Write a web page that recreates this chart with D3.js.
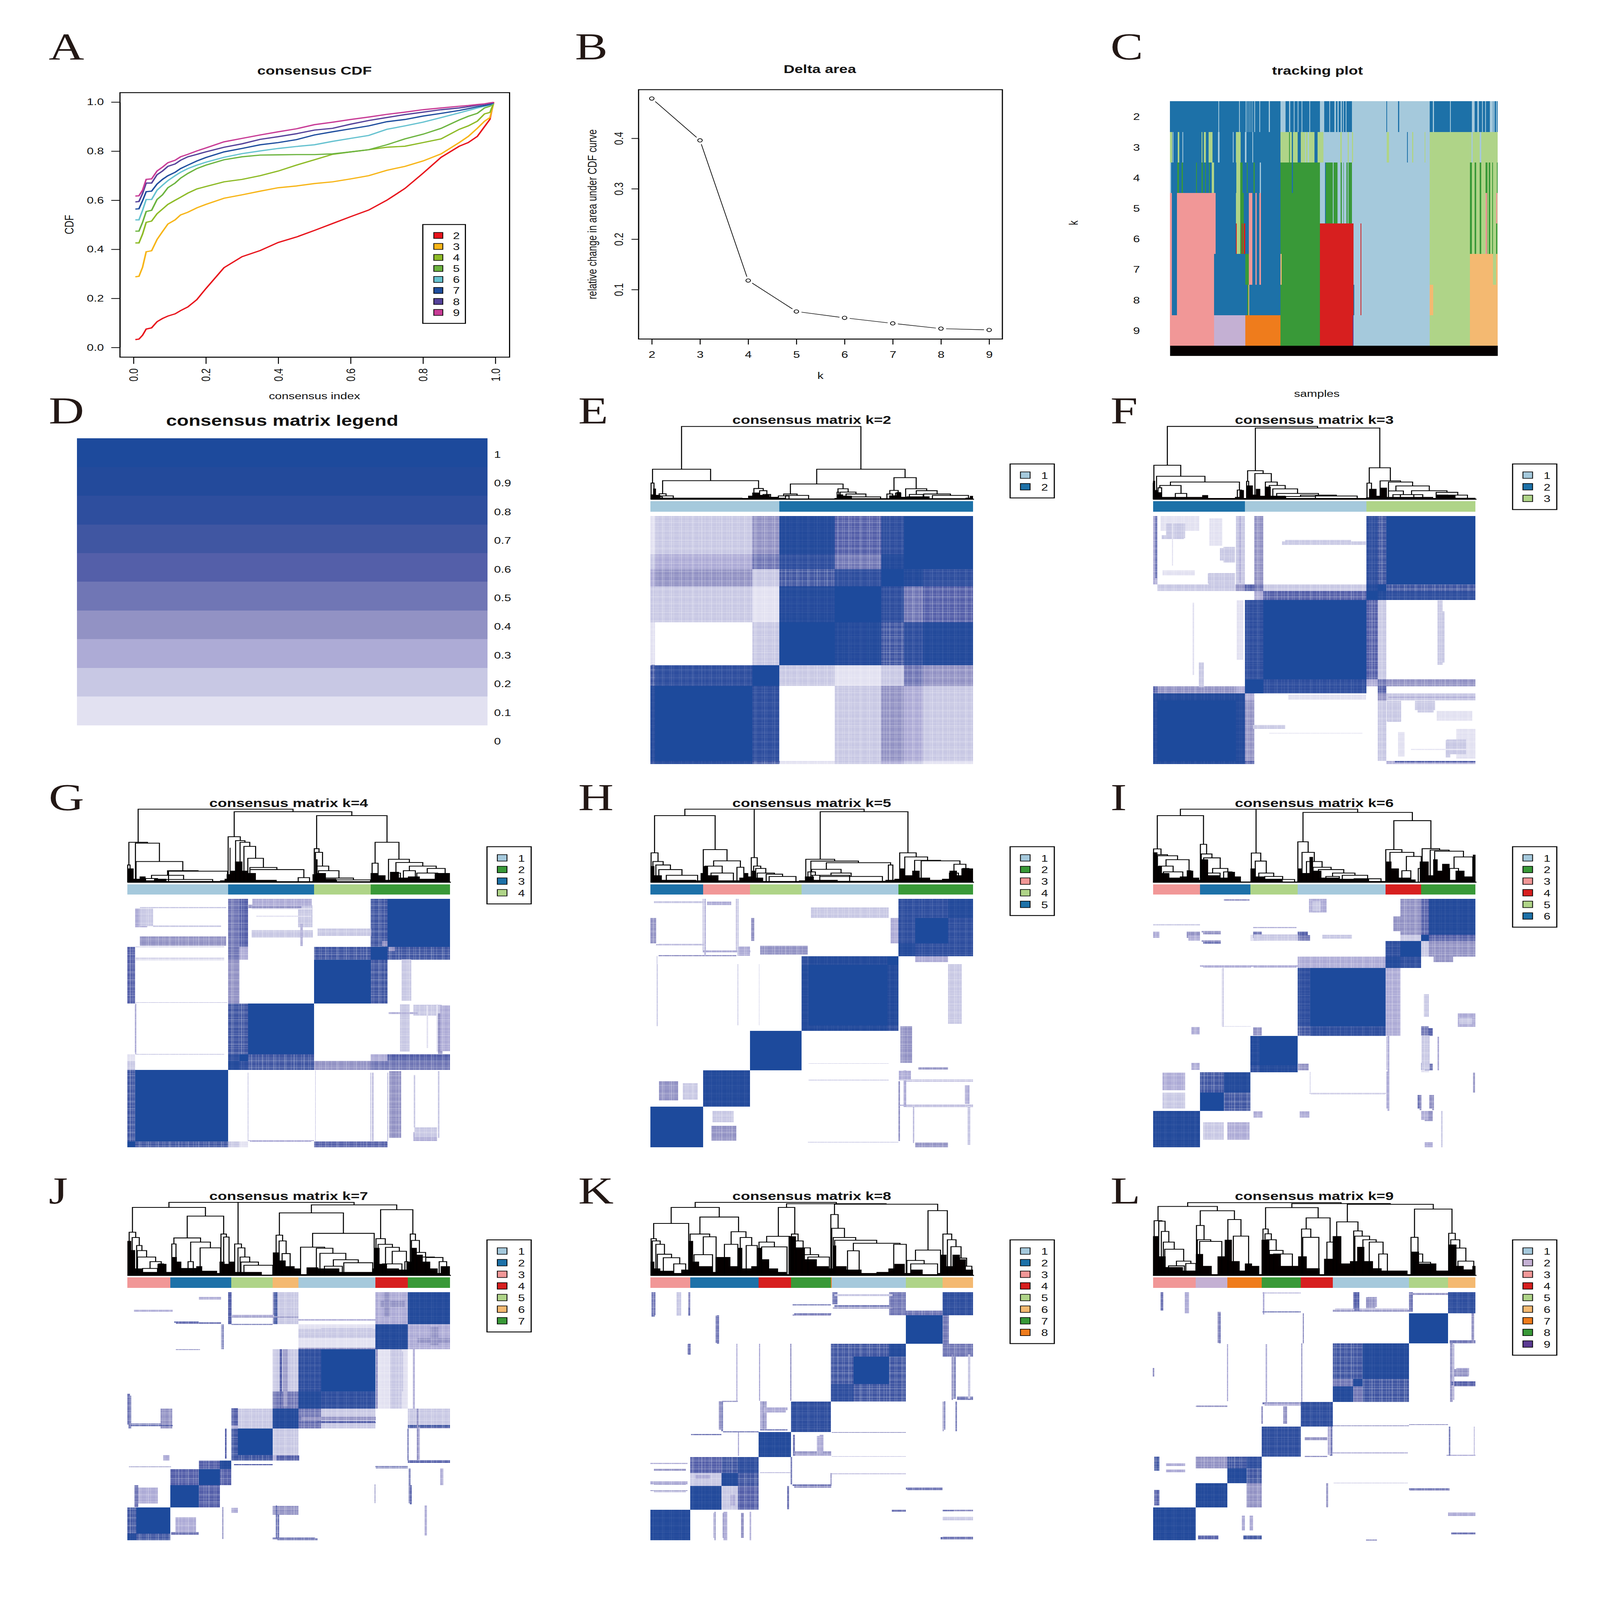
<!DOCTYPE html>
<html lang="en">
  <head>
    <meta charset="UTF-8" />
    <meta name="viewport" content="width=device-width, initial-scale=1.0" />
    <title>Consensus clustering</title>
    <script src="https://d3js.org/d3.v7.min.js"></script>
    <style>
      html, body { margin: 0; padding: 0; width: 100%; height: 100%; overflow: hidden; background: #fff; }
      svg { display: block; width: 100vw; height: 100vh; }
      text { font-family: "Liberation Sans", Arial, sans-serif; fill: #111; }
      .panel-label { font-family: "Liberation Serif", serif; font-size: 152px; fill: #231815; }
      .tick line, .domain { stroke: #000; stroke-width: 3; }
    </style>
  </head>
  <body>
    <div id="chart"></div>
    <script>
      // Panel A, consensus CDF read at these consensus index values
      const cdfIndex = [0.005,0.015,0.025,0.035,0.05,0.065,0.08,0.095,0.115,0.13,0.15,0.175,0.2,0.25,0.3,0.35,0.4,0.45,0.5,0.55,0.6,0.65,0.7,0.75,0.8,0.85,0.9,0.925,0.95,0.97,0.985,0.995];
      const cdfK2 = [.032,.034,.05,.075,.08,.105,.118,.128,.137,.15,.165,.195,.24,.325,.37,.395,.428,.45,.477,.505,.533,.56,.6,.648,.71,.775,.82,.835,.86,.9,.93,1];
      const cdfK3 = [.288,.29,.327,.39,.394,.44,.472,.503,.52,.54,.551,.569,.583,.608,.622,.637,.651,.658,.668,.675,.687,.7,.722,.738,.76,.789,.835,.86,.893,.922,.937,.995];
      const cdfK4 = [.426,.426,.462,.51,.515,.545,.564,.583,.6,.612,.629,.646,.656,.675,.685,.7,.719,.743,.765,.787,.797,.806,.816,.82,.835,.85,.889,.903,.922,.952,.958,.995];
      const cdfK5 = [.474,.474,.51,.554,.559,.603,.622,.651,.67,.69,.709,.729,.743,.765,.777,.784,.785,.786,.786,.789,.797,.806,.826,.85,.869,.893,.927,.942,.954,.976,.983,.995];
      const cdfK6 = [.52,.52,.559,.603,.603,.641,.661,.68,.7,.714,.729,.743,.755,.775,.79,.801,.811,.819,.826,.84,.852,.864,.889,.903,.918,.937,.956,.966,.976,.983,.988,.995];
      const cdfK7 = [.564,.565,.598,.635,.637,.666,.685,.7,.714,.729,.743,.76,.774,.797,.811,.826,.835,.847,.866,.879,.891,.903,.92,.929,.943,.954,.966,.973,.981,.986,.99,.997];
      const cdfK8 = [.593,.595,.627,.67,.67,.704,.719,.738,.748,.763,.777,.787,.797,.816,.83,.848,.859,.871,.886,.893,.91,.925,.937,.949,.959,.969,.976,.981,.987,.991,.995,.998];
      const cdfK9 = [.617,.618,.641,.685,.687,.719,.735,.753,.763,.777,.787,.801,.813,.838,.852,.866,.879,.891,.908,.918,.929,.939,.95,.959,.969,.976,.983,.986,.99,.993,.997,.999];
      const cdfSeries = [cdfK2, cdfK3, cdfK4, cdfK5, cdfK6, cdfK7, cdfK8, cdfK9];
      const cdfColors = ["#e8141c", "#f7b518", "#8ebb27", "#6cb43f", "#66c2d0", "#1f4e9e", "#54429a", "#c83c96"];
      const kLabels = [2, 3, 4, 5, 6, 7, 8, 9];

      // Panel B
      const deltaArea = [0.479, 0.396, 0.118, 0.0566, 0.044, 0.033, 0.0226, 0.02];

      // Cluster colours
      const clusterColors = { light: "#a5c9dc", blue: "#1d71a8", pink: "#f19797", red: "#d71f1f", lime: "#afd488", tan: "#f4b971", orange: "#ef7c1c", green: "#399938", lilac: "#c4b0d3", purple: "#5b3a92" };

      // Panel C, tracking plot: [from, to, cluster], later runs paint over earlier ones
      const trackK2 = [[343,701,"blue"],[701,717,"light"],[717,933,"blue"],[933,1185,"light"],[1185,1405,"blue"],[499,502,"light"],[566,569,"light"],[588,590,"light"],[594,596,"light"],[599,601,"light"],[604,606,"light"],[609,611,"light"],[616,618,"light"],[632,635,"light"],[663,666,"light"],[728,733,"light"],[744,746,"light"],[756,759,"light"],[769,772,"light"],[794,797,"light"],[828,843,"light"],[859,862,"light"],[875,880,"light"],[886,889,"light"],[896,899,"light"],[903,906,"light"],[912,915,"light"],[1044,1047,"blue"],[1082,1085,"blue"],[1195,1198,"light"],[1250,1253,"light"],[1321,1330,"light"],[1339,1344,"light"],[1354,1357,"light"],[1364,1367,"light"],[1379,1389,"light"],[1391,1394,"light"],[1399,1402,"light"]];
      const trackK3 = [[343,701,"blue"],[701,811,"lime"],[811,821,"blue"],[821,845,"lime"],[845,850,"blue"],[850,1185,"light"],[1185,1405,"lime"],[343,350,"lime"],[351,354,"light"],[368,373,"lime"],[383,385,"light"],[445,448,"lime"],[453,459,"lime"],[468,481,"lime"],[498,503,"light"],[546,549,"light"],[556,572,"lime"],[585,590,"light"],[609,612,"light"],[728,731,"green"],[738,741,"blue"],[757,766,"blue"],[780,783,"light"],[790,793,"light"],[840,850,"light"],[895,900,"lime"],[918,922,"lime"],[932,936,"lime"],[1045,1053,"lime"],[1111,1114,"blue"],[1128,1131,"lime"],[1168,1170,"lime"],[1320,1324,"light"],[1346,1351,"light"]];
      const trackK4 = [[343,346,"light"],[346,478,"blue"],[478,485,"lime"],[485,558,"blue"],[558,570,"lime"],[570,578,"green"],[578,701,"blue"],[701,828,"green"],[828,845,"light"],[845,933,"green"],[933,1185,"light"],[1185,1405,"lime"],[366,372,"green"],[381,384,"green"],[427,430,"green"],[445,449,"green"],[456,459,"green"],[469,472,"green"],[592,595,"green"],[614,617,"green"],[634,637,"light"],[738,741,"blue"],[845,848,"blue"],[871,873,"light"],[885,896,"light"],[899,904,"light"],[906,915,"light"],[918,921,"light"],[1315,1321,"green"],[1330,1335,"green"],[1347,1351,"green"],[1365,1372,"green"],[1375,1380,"green"],[1387,1390,"green"],[1402,1405,"green"]];
      const trackK5 = [[343,491,"pink"],[349,365,"blue"],[491,556,"blue"],[556,570,"lime"],[570,582,"green"],[582,598,"blue"],[598,610,"pink"],[610,620,"blue"],[620,623,"pink"],[623,632,"blue"],[632,637,"pink"],[637,701,"blue"],[701,828,"green"],[828,845,"light"],[845,848,"blue"],[848,933,"green"],[933,1185,"light"],[1185,1405,"lime"],[871,873,"light"],[885,896,"light"],[899,904,"light"],[906,915,"light"],[918,921,"light"],[1315,1321,"green"],[1330,1335,"green"],[1347,1351,"green"],[1365,1370,"pink"],[1370,1372,"green"],[1375,1380,"green"],[1387,1390,"green"],[1400,1403,"pink"]];
      const trackK6 = [[343,491,"pink"],[349,365,"blue"],[491,556,"blue"],[556,559,"red"],[559,570,"lime"],[570,575,"green"],[575,578,"red"],[578,582,"green"],[582,587,"red"],[587,598,"blue"],[598,610,"pink"],[610,620,"blue"],[620,623,"pink"],[623,632,"blue"],[632,637,"pink"],[637,701,"blue"],[701,828,"green"],[828,937,"red"],[937,1185,"light"],[960,963,"red"],[1185,1405,"lime"],[1315,1321,"green"],[1330,1335,"green"],[1347,1351,"green"],[1365,1370,"pink"],[1370,1372,"green"],[1375,1380,"green"],[1387,1390,"green"],[1400,1403,"green"]];
      const trackK7 = [[343,485,"pink"],[349,365,"blue"],[485,587,"blue"],[587,598,"green"],[598,610,"pink"],[610,620,"blue"],[620,623,"pink"],[623,632,"blue"],[632,637,"pink"],[637,701,"blue"],[701,705,"tan"],[705,828,"green"],[828,937,"red"],[937,1185,"light"],[960,963,"red"],[1185,1315,"lime"],[1315,1390,"tan"],[1390,1400,"lime"],[1400,1405,"tan"]];
      const trackK8 = [[343,485,"pink"],[349,365,"blue"],[485,593,"blue"],[593,597,"green"],[597,600,"tan"],[600,701,"blue"],[701,828,"green"],[828,937,"red"],[937,940,"blue"],[940,1185,"light"],[960,963,"red"],[1185,1196,"tan"],[1196,1315,"lime"],[1315,1405,"tan"]];
      const trackK9 = [[343,485,"pink"],[485,587,"lilac"],[587,701,"orange"],[701,828,"green"],[828,935,"red"],[935,937,"purple"],[937,1185,"light"],[1185,1315,"lime"],[1315,1405,"tan"]];
      const trackRows = [trackK2, trackK3, trackK4, trackK5, trackK6, trackK7, trackK8, trackK9];

      // Panel D, heat colours for consensus values 0, 0.1 ... 1
      const levelColors = ["#ffffff", "#e2e1f1", "#c8c8e4", "#adabd6", "#9292c4", "#7076b5", "#545fa9", "#4056a2", "#2e4e9e", "#234a9b", "#1d4a9c"];
      const legendTicks = ["1", "0.9", "0.8", "0.7", "0.6", "0.5", "0.4", "0.3", "0.2", "0.1", "0"];

      // Consensus matrices: sample breaks, lower triangle of block levels (a = 1.0),
      // and streaks [position, width, from, to, level] which the matrix mirrors
      const breaksK2 = [0,14,316,399,571,716,786,845,1000];
      const blocksK2 = ["8","9a","78a","102a","2219a","34278a","235859a","124968aa"];
      const streaksK2 = [[8,10,0,400,7],[640,60,399,571,8],[880,40,571,716,6]];

      const breaksK3 = [0,14,257,285,314,342,662,697,724,1000];
      const blocksK3 = ["9","9a","999","643a","000aa","00088a","000036a","0246529a","30204087a"];
      const streaksK3 = [[231,46,820,870,2],[212,83,727,768,2],[62,69,907,922,2],[83,120,940,1000,1],[900,8,410,615,2],[747,45,172,255,2],[843,63,218,255,2],[940,60,40,100,2],[150,15,310,410,2],[125,4,360,650,1],[890,15,400,660,2],[10,6,750,1000,6],[270,6,730,1000,3],[80,100,760,780,1],[60,4,800,1000,1],[270,20,420,660,1],[195,40,880,990,1],[280,4,740,1000,2]];

      const breaksK4 = [0,24,312,348,374,579,754,807,1000];
      const blocksK4 = ["a","7a","209","108a","0077a","60400a","605307a","0056007a"];
      const streaksK4 = [[830,37,38,306,4],[43,37,886,960,3],[552,45,886,975,2],[865,30,590,756,2],[970,14,375,540,4],[985,30,387,571,3],[24,3,380,570,3],[583,2,25,310,3],[755,3,25,300,2],[26,3,374,579,3],[374,2,25,300,2],[965,5,38,306,2],[890,5,80,290,2],[761,3,25,300,3],[807,3,25,300,2],[60,40,890,960,2],[820,20,790,1000,4],[860,30,385,575,2],[930,4,400,570,1],[960,5,385,575,1],[540,8,810,900,3]];

      const breaksK5 = [0,163,309,468,490,735,769,821,923,1000];
      const blocksK5 = ["a","09","00a","0009","0009a","00089a","0000009","0000008a","000000889"];
      const streaksK5 = [[56,60,188,266,4],[123,46,192,257,2],[793,37,340,488,4],[789,37,270,308,3],[944,42,497,738,2],[9,18,821,923,4],[317,9,830,923,4],[757,24,821,923,3],[21,3,488,738,2],[163,3,785,1000,3],[266,3,785,1000,3],[815,4,17,165,3],[789,8,163,310,3],[987,8,10,165,2],[771,4,25,266,4],[169,4,771,1000,3],[271,4,771,1000,2],[817,3,25,169,2],[982,15,175,250,3],[271,3,490,738,2],[337,2,490,738,2],[20,3,488,769,2]];

      const breaksK6 = [0,146,220,302,330,448,487,721,767,831,855,1000];
      const blocksK6 = ["9","0a","079","0008","0009a","000007","000008a","00000339","00000008a","000101002a","00000000469"];
      const streaksK6 = [[65,70,155,220,2],[65,70,230,300,3],[855,25,0,20,3],[855,25,105,146,4],[855,25,310,337,5],[855,25,448,480,6],[466,33,310,337,4],[511,55,945,1000,3],[843,23,450,487,5],[843,23,312,340,5],[843,23,110,146,3],[825,10,155,210,5],[861,9,155,210,4],[132,26,455,485,3],[132,26,312,340,3],[868,6,150,210,4],[830,6,150,210,4],[730,6,146,448,3],[725,3,312,445,3],[725,4,155,305,3],[217,3,485,722,3],[487,2,220,303,2],[213,2,488,720,2],[995,6,220,300,4],[845,25,312,450,2],[900,60,745,820,4],[975,40,770,820,4],[895,5,0,146,2],[885,5,310,445,3],[970,40,495,520,2],[848,16,525,617,2]];

      const breaksK7 = [0,28,133,222,287,322,343,451,530,600,769,870,1000];
      const blocksK7 = ["9","7a","00a","006a","00069","000007","000007a","00000329","000000059","000000028a","00000000119","000000020039"];
      const streaksK7 = [[61,66,149,213,3],[121,37,451,530,4],[121,20,322,343,3],[833,36,530,769,2],[317,9,870,1000,6],[292,3,770,870,5],[457,10,870,1000,5],[474,3,533,770,6],[490,14,540,770,4],[468,5,0,133,5],[320,6,870,1000,6],[460,10,870,1000,7],[297,5,769,870,5],[305,5,330,451,6],[4,8,470,590,5],[119,28,460,528,4],[332,21,463,533,6],[477,6,590,769,6],[870,4,322,451,5],[879,6,145,222,6],[28,12,135,222,5],[8,8,451,582,5],[462,4,10,140,6],[296,4,5,135,4],[875,5,150,290,5],[768,3,150,225,4],[888,6,530,770,3],[905,5,325,455,3],[975,10,222,290,3],[925,8,20,140,3],[842,25,600,760,2],[805,20,900,1000,4],[952,25,785,860,4],[773,6,530,769,4],[900,5,322,530,4]];

      const breaksK8 = [0,123,220,271,335,436,559,630,740,792,906,1000];
      const blocksK8 = ["9","09","029","0678","00009","000008","0000008","0000007a","000000779","000000000a","00000000508"];
      const streaksK8 = [[8,9,900,1000,6],[88,15,905,1000,2],[120,7,905,1000,5],[206,8,795,905,5],[118,6,750,790,4],[426,6,125,220,5],[273,3,340,436,3],[215,8,445,560,4],[560,4,220,271,4],[350,20,445,560,3],[530,12,360,425,3],[445,6,340,425,5],[437,5,225,335,5],[222,6,440,559,5],[352,10,445,559,4],[525,20,350,420,3],[435,4,562,792,4],[338,3,562,792,3],[268,3,562,792,3],[209,8,792,906,5],[120,8,748,792,5],[10,10,906,1000,5],[120,5,940,1000,4],[572,15,950,1000,5],[943,8,570,750,5],[988,8,570,750,2],[915,20,792,906,5],[948,5,440,559,5],[907,4,440,559,4],[970,60,750,790,5],[936,5,565,750,4],[912,4,445,560,5],[230,12,10,110,4],[285,8,10,110,4],[196,3,10,110,3],[255,15,140,185,3],[310,5,0,115,3],[232,12,0,115,3],[200,3,0,115,4]];

      const breaksK9 = [0,133,230,290,337,458,557,620,650,794,915,1000];
      const blocksK9 = ["9","09","009","0478","00008","000008","0000009","00000059","000000779","000000000a","00000000008"];
      const streaksK9 = [[28,8,925,1000,5],[105,14,915,1000,3],[205,10,795,920,4],[343,4,910,1000,3],[996,3,340,458,3],[920,3,340,458,3],[630,20,930,1000,5],[680,30,940,980,3],[925,8,557,794,4],[800,12,920,1000,5],[992,8,794,915,4],[957,45,660,690,4],[632,15,925,1000,6],[410,12,470,540,4],[338,5,470,540,4],[552,8,340,458,5],[540,3,133,230,4],[461,3,557,794,4],[466,3,794,915,4],[920,5,340,458,5],[547,10,345,458,3],[540,5,135,230,4],[207,6,794,915,5],[12,16,280,337,7],[12,16,140,203,6],[2,5,660,695,4],[352,5,555,790,3],[932,4,565,790,3],[231,3,560,790,3],[305,10,40,100,3],[280,10,40,100,3]];

      // Light sample lines that give the mid-level blocks their woven grain
      const weaveLines = [7,16,22,35,41,58,63,71,88,94,109,115,128,133,149,157,168,181,187,204,212,219,236,243,251,268,274,290,297,309,322,328,345,352,360,377,383,398,406,417,431,437,452,459,470,486,492,507,515,524,539,546,561,567,579,594,600,613,621,632,648,654,671,677,686,702,708,723,731,740,757,763,778,785,796,811,817,832,840,849,866,872,887,893,904,920,926,941,948,958,975,981,994];

      // Cluster bars above the matrices: [to, cluster]
      const barK2 = [[399,"light"],[1000,"blue"]];
      const barK3 = [[285,"blue"],[662,"light"],[1000,"lime"]];
      const barK4 = [[312,"light"],[579,"blue"],[754,"lime"],[1000,"green"]];
      const barK5 = [[163,"blue"],[309,"pink"],[468,"lime"],[769,"light"],[1000,"green"]];
      const barK6 = [[146,"pink"],[302,"blue"],[448,"lime"],[721,"light"],[831,"red"],[1000,"green"]];
      const barK7 = [[133,"pink"],[322,"blue"],[451,"lime"],[530,"tan"],[769,"light"],[870,"red"],[1000,"green"]];
      const barK8 = [[123,"pink"],[335,"blue"],[436,"red"],[559,"green"],[562,"orange"],[792,"light"],[906,"lime"],[1000,"tan"]];
      const barK9 = [[133,"pink"],[230,"lilac"],[337,"orange"],[458,"green"],[557,"red"],[558,"purple"],[794,"light"],[915,"lime"],[1000,"tan"]];

      // Legends
      const legendK2 = ["light","blue"];
      const legendK3 = ["light","blue","lime"];
      const legendK4 = ["light","green","blue","lime"];
      const legendK5 = ["light","green","pink","lime","blue"];
      const legendK6 = ["light","green","pink","red","lime","blue"];
      const legendK7 = ["light","blue","pink","red","lime","tan","green"];
      const legendK8 = ["light","blue","pink","red","lime","tan","green","orange"];
      const legendK9 = ["light","lilac","pink","red","lime","tan","orange","green","purple"];

      // Dendrograms: [height, left, right], a plain number is a leaf at that position.
      const treeK2 = [306,
        [126,[68,133,143],[78,[23,[10,150,172],[14,160,210]],[45,[26,486,494],[36,510,[20,522,548]]]]],
        [126,[64,[22,[14,575,612],[16,600,680]],[44,[30,779,785],[30,790,[22,810,[10,828,930]]]]],
         [91,[37,[22,952,972],[26,982,1000]],[44,1017,[36,[20,1030,1078],[22,1080,[16,1110,1235]]]]]]];
      const treeK3 = [317,
        [148,[70,136,140],[100,147,[75,[60,[50,152,164],[25,210,248]],[40,418,432]]]],
        [310,
         [124,[78,449,456],[112,477,[75,512,[60,525,[45,537,[25,550,[18,[12,580,680],[14,680,820]]]]]]]],
         [137,[70,853,868],[80,897,[75,925,[58,[36,925,[20,940,1010]],[37,[20,965,1040],[30,1085,[18,1125,1190]]]]]]]]];
      const treeK4 = [318,
        [174,[75,60,68],[170,86,[90,88,[50,[30,[16,120,160],[12,150,345]],[48,197,395]]]]],
        [307,
         [198,397,[181,422,[174,437,[156,450,[104,463,[64,470,[55,470,[20,632,670]]]]]]]],
         [290,
          [146,686,[130,690,[70,693,[50,700,[18,720,[10,760,875]]]]]],
          [174,[83,880,900],[100,935,[86,[40,945,975],[70,[50,985,1025],[60,[40,1030,1100],[38,1115,1135]]]]]]]]];
      const treeK5 = [318,
        [318,
         [290,[128,74,[90,80,[75,90,[55,100,[30,125,230]]]]],[142,249,[93,[70,255,[40,275,350]],[65,362,385]]]],
         [107,410,[70,418,[60,425,[40,430,[35,460,[25,470,560]]]]]]],
        [307,
         [100,593,[92,610,[85,[56,[45,600,[30,610,640]],[40,[30,615,740],[25,640,850]]],[75,870,885]]]],
         [128,908,[110,925,[95,958,[93,980,[78,[40,1075,1105],[60,1120,1140]]]]]]]];
      const treeK6 = [318,
        [318,
         [290,[145,137,[120,140,[115,150,[98,[70,155,[45,170,235]],[50,250,262]]]]],[165,294,[123,297,[106,305,[60,[40,310,360],[45,372,400]]]]]],
         [127,465,[92,478,[40,490,[25,510,[12,530,610]]]]]],
        [304,
         [176,621,[130,635,[90,650,[65,672,[55,690,[40,[25,715,760],[30,770,[15,810,900]]]]]]]],
         [268,
          [142,916,[130,930,[112,[50,970,1000],[60,1025,1045]]]],
          [146,1038,[140,1065,[135,1080,[110,[60,1130,1160],1208]]]]]]];
      const treeK7 = [318,
        [318,
         [296,[188,65,[165,75,[130,90,[108,92,[80,93,[60,[30,110,160],[50,165,180]]]]]]],
          [258,[163,[137,208,222],[145,[60,[30,235,290],280],[120,303,372]]],[180,373,[167,382,400]]]],
         [137,419,[120,430,[80,437,[58,440,[44,450,547]]]]]],
        [307,
         [272,[175,558,[150,568,[95,578,605]]],
          [183,[123,640,[118,693,[96,705,[68,[40,720,780],[55,785,882]]]]],887]],
         [286,[160,893,[135,900,[122,925,[105,[50,915,980],[60,990,1000]]]]],
          [180,1008,[152,1012,[100,1018,[80,1030,[78,1060,[60,1105,1130]]]]]]]]];
      const treeK8 = [318,
        [296,
         [226,[160,74,[150,78,[135,90,[92,95,[77,115,[50,150,190]]]]]],200],
         [254,[180,205,[168,[90,218,280],292]],[190,[135,320,365],[165,373,[130,393,430]]]]],
        [312,
         [296,[170,[145,436,[124,445,530]],540],[180,545,[150,550,[120,560,[90,580,[80,600,672]]]]]],
         [310,
          [265,677,[205,680,[165,685,[153,690,[140,[107,733,772],[135,888,930]]]]]],
          [282,[110,[65,932,[50,945,1035]],1045],[180,1053,[155,1068,[125,1080,[75,1095,[40,1115,1150]]]]]]]]];
      const treeK9 = [306,
        [290,
         [230,200,[228,216,[185,225,[140,232,[110,237,[60,[40,250,305],[50,310,345]]]]]]],
         [272,[210,347,[150,350,[143,358,435]]],[235,456,[165,475,528]]]],
        [302,
         [285,[195,578,[175,585,[150,590,[105,600,[90,615,680]]]]],[242,[195,712,[160,716,772]],[140,800,822]]],
         [299,
          [225,834,[187,893,[165,897,[150,925,[140,947,[90,980,1010]]]]]],
          [279,[160,1092,[90,1100,[55,1105,1160]]],[177,1223,[150,1230,[115,1240,[60,1255,1310]]]]]]]];

      // Black spikes under each dendrogram: [position, height]
      const fringeK2 = [[131,20],[140,45],[150,18],[165,6],[450,5],[470,15],[485,28],[510,18],[530,20],[545,10],[575,6],[600,3],[770,5],[778,20],[800,15],[830,4],[940,4],[960,16],[985,30],[1000,10],[1020,12],[1100,4],[1225,6],[1240,14],[1251,0]];
      const fringeK3 = [[135,80],[142,40],[150,30],[165,10],[300,18],[320,5],[410,10],[425,40],[440,5],[449,60],[470,20],[480,45],[495,15],[510,55],[530,15],[580,5],[850,8],[860,45],[885,15],[897,50],[920,10],[1075,5],[1085,20],[1125,18],[1150,6],[1217,3]];
      const fringeK4 = [[59,60],[80,15],[100,25],[120,8],[150,15],[190,5],[370,8],[385,15],[392,35],[402,150],[405,50],[420,90],[445,50],[465,40],[490,10],[560,4],[680,35],[690,100],[697,40],[725,15],[760,4],[875,40],[900,30],[925,10],[940,45],[970,20],[1000,25],[1040,15],[1090,40],[1141,35]];
      const fringeK5 = [[72,70],[85,30],[110,10],[225,8],[240,40],[250,70],[265,30],[300,8],[370,20],[385,40],[400,25],[412,50],[425,20],[450,5],[570,8],[590,25],[620,10],[700,6],[860,10],[890,15],[908,60],[925,30],[950,50],[975,20],[1010,10],[1050,15],[1075,50],[1100,30],[1115,60],[1154,45]];
      const fringeK6 = [[135,130],[150,70],[165,40],[190,20],[225,25],[250,50],[270,20],[290,10],[297,100],[320,30],[360,20],[385,45],[410,25],[430,3],[462,60],[480,25],[510,15],[570,3],[620,60],[635,40],[660,110],[672,50],[700,20],[760,15],[810,15],[860,5],[915,90],[935,60],[960,20],[1000,12],[1016,0],[1030,90],[1060,30],[1075,100],[1090,50],[1105,80],[1130,10],[1150,50],[1180,25],[1208,120],[1217,110]];
      const fringeK7 = [[59,150],[72,110],[85,30],[110,15],[160,50],[190,15],[208,80],[225,60],[240,30],[290,40],[310,20],[360,10],[368,60],[385,50],[400,60],[420,15],[510,3],[547,100],[570,65],[590,40],[620,30],[640,5],[660,35],[700,30],[770,15],[820,15],[880,30],[888,120],[905,50],[930,30],[970,25],[995,60],[1010,120],[1030,90],[1050,60],[1075,30],[1100,10],[1110,40],[1141,30]];
      const fringeK8 = [[72,60],[85,30],[105,20],[150,10],[175,25],[200,150],[215,60],[235,40],[280,15],[290,80],[320,80],[340,40],[365,120],[380,30],[410,40],[432,120],[445,70],[470,30],[500,15],[528,5],[535,170],[560,120],[590,70],[630,40],[670,30],[685,130],[695,40],[730,25],[780,10],[830,15],[870,30],[890,50],[925,10],[945,25],[985,5],[1035,10],[1045,90],[1065,40],[1085,90],[1110,70],[1130,25],[1154,20]];
      const fringeK9 = [[196,165],[215,80],[240,35],[300,20],[345,90],[370,40],[400,5],[420,80],[445,150],[470,60],[497,20],[515,50],[540,40],[565,5],[573,150],[600,90],[640,40],[700,80],[730,30],[775,5],[790,70],[820,165],[850,50],[880,60],[905,120],[930,60],[960,30],[990,20],[1030,20],[1080,5],[1092,100],[1120,50],[1180,20],[1221,130],[1250,40],[1275,25],[1305,40],[1316,0]];

      const width = 4961;
      const height = 6442;
      const svg = d3.select("#chart").append("svg").attr("viewBox", `0 0 ${width} ${height}`).attr("preserveAspectRatio", "none");

      function label(g, x, y, str, size, opts = {}) {
        return g.append("text").attr("x", x).attr("y", y).attr("font-size", size)
          .attr("text-anchor", opts.anchor || "middle").attr("font-weight", opts.bold ? "bold" : null)
          .attr("transform", opts.rotate ? `rotate(-90 ${x} ${y})` : null).text(str);
      }

      function box(g, x0, y0, x1, y1) {
        g.append("rect").attr("x", x0).attr("y", y0).attr("width", x1 - x0).attr("height", y1 - y0)
          .attr("fill", "none").attr("stroke", "#000").attr("stroke-width", 3.5);
      }

      [["A",151,239],["B",1783,239],["C",3443,239],["D",151,1705],["E",1793,1705],["F",3443,1705],["G",151,3262],["H",1793,3262],["I",3443,3262],["J",151,4846],["K",1793,4846],["L",3443,4846]]
        .forEach(([t, x, y]) => svg.append("text").attr("class", "panel-label").attr("x", x).attr("y", y).text(t));

      // A: consensus CDF
      {
        const g = svg.append("g");
        const x = d3.scaleLinear().domain([0, 1]).range([414, 1536]);
        const y = d3.scaleLinear().domain([0, 1]).range([1399, 411]);
        const line = d3.line().x((d) => x(d[0])).y((d) => y(d[1]));
        cdfSeries.forEach((s, i) => {
          g.append("path").attr("d", line(cdfIndex.map((c, j) => [c, s[j]])))
            .attr("fill", "none").attr("stroke", cdfColors[i]).attr("stroke-width", 5);
        });
        box(g, 372, 373, 1580, 1438);
        const xAxis = g.append("g").attr("transform", "translate(0,1438)").call(d3.axisBottom(x).tickValues([0,.2,.4,.6,.8,1]).tickFormat(d3.format(".1f")).tickSize(27).tickSizeOuter(0));
        xAxis.selectAll("text").attr("font-size", 38).attr("transform", "rotate(-90)").attr("x", -45).attr("y", 0).attr("dy", "0.35em").attr("text-anchor", "end");
        const yAxis = g.append("g").attr("transform", "translate(372,0)").call(d3.axisLeft(y).tickValues([0,.2,.4,.6,.8,1]).tickFormat(d3.format(".1f")).tickSize(27).tickSizeOuter(0).tickPadding(23));
        yAxis.selectAll("text").attr("font-size", 38);
        label(g, 975, 301, "consensus CDF", 47, { bold: true });
        label(g, 975, 1607, "consensus index", 38);
        label(g, 228, 904, "CDF", 38, { rotate: true });
        box(g, 1311, 904, 1443, 1302);
        const ly = d3.scalePoint().domain(kLabels).range([948, 1258]);
        kLabels.forEach((k, i) => {
          g.append("rect").attr("x", 1345).attr("y", ly(k) - 12).attr("width", 28).attr("height", 24)
            .attr("fill", cdfColors[i]).attr("stroke", "#000").attr("stroke-width", 2.5);
          label(g, 1415, ly(k) + 14, k, 38);
        });
      }

      // B: delta area
      {
        const g = svg.append("g");
        const x = d3.scaleLinear().domain([2, 9]).range([2021, 3067]);
        const y = d3.scaleLinear().domain([0.1, 0.4]).range([1166, 557]);
        const pts = kLabels.map((k, i) => [x(k), y(deltaArea[i])]);
        d3.pairs(pts).forEach(([a, b]) => {
          const dist = Math.hypot(b[0] - a[0], b[1] - a[1]);
          const ux = (b[0] - a[0]) / dist, uy = (b[1] - a[1]) / dist;
          const gap = 16;
          g.append("line").attr("x1", a[0] + ux * gap).attr("y1", a[1] + uy * gap)
            .attr("x2", b[0] - ux * gap).attr("y2", b[1] - uy * gap)
            .attr("stroke", "#000").attr("stroke-width", 2.2);
        });
        g.selectAll("circle").data(pts).join("circle").attr("cx", (d) => d[0]).attr("cy", (d) => d[1])
          .attr("r", 7).attr("fill", "none").attr("stroke", "#000").attr("stroke-width", 2.5);
        box(g, 1980, 361, 3108, 1365);
        const xAxis = g.append("g").attr("transform", "translate(0,1365)").call(d3.axisBottom(x).tickValues(kLabels).tickFormat(d3.format("d")).tickSize(22).tickSizeOuter(0));
        xAxis.selectAll("text").attr("font-size", 38).attr("y", 76).attr("dy", 0);
        const yAxis = g.append("g").attr("transform", "translate(1980,0)").call(d3.axisLeft(y).tickValues([.1,.2,.3,.4]).tickFormat(d3.format(".1f")).tickSize(22).tickSizeOuter(0));
        yAxis.selectAll("text").attr("font-size", 38).attr("transform", "rotate(-90)").attr("x", 0).attr("y", -62).attr("dy", "0.35em").attr("text-anchor", "middle");
        label(g, 2542, 294, "Delta area", 47, { bold: true });
        label(g, 2544, 1526, "k", 38);
        label(g, 1850, 863, "relative change in area under CDF curve", 38, { rotate: true });
      }

      // C: tracking plot
      {
        const g = svg.append("g");
        const x = d3.scaleLinear().domain([343, 1405]).range([3628, 4644]);
        const y = d3.scaleBand().domain(kLabels).range([408, 1392]);
        trackRows.forEach((runs, i) => {
          g.selectAll(null).data(runs).join("rect").attr("shape-rendering", "crispEdges")
            .attr("x", (d) => x(d[0])).attr("width", (d) => x(d[1]) - x(d[0]))
            .attr("y", y(kLabels[i])).attr("height", y.bandwidth())
            .attr("fill", (d) => clusterColors[d[2]]);
          label(g, 3524, y(kLabels[i]) + y.bandwidth() / 2 + 14, kLabels[i], 38);
        });
        g.append("rect").attr("x", 3628).attr("y", 1392).attr("width", 1016).attr("height", 41).attr("fill", "#050000");
        label(g, 4085, 301, "tracking plot", 47, { bold: true });
        label(g, 4083, 1598, "samples", 38);
        label(g, 3342, 897, "k", 38, { rotate: true });
      }

      // D: consensus matrix legend
      {
        const g = svg.append("g");
        const bands = d3.scaleBand().domain(d3.range(10, 0, -1)).range([1765, 2920]);
        g.selectAll(null).data(d3.range(10, 0, -1)).join("rect").attr("shape-rendering", "crispEdges")
          .attr("x", 239).attr("width", 1273).attr("y", (d) => bands(d)).attr("height", bands.bandwidth() + 1)
          .attr("fill", (d) => levelColors[d]);
        const ticks = d3.scalePoint().domain(legendTicks).range([1829, 2984]);
        legendTicks.forEach((t) => label(g, 1532, ticks(t) + 14, t, 38, { anchor: "start" }));
        label(g, 875, 1715, "consensus matrix legend", 60, { bold: true });
      }

      // E to L: consensus matrices
      const matrices = [
        { k: 2, left: 2017, top: 2077, breaks: breaksK2, blocks: blocksK2, streaks: streaksK2, bar: barK2, legend: legendK2, tree: treeK2, fringe: fringeK2, span: [131, 1251], unit: 1 / 1.045 },
        { k: 3, left: 3575, top: 2077, breaks: breaksK3, blocks: blocksK3, streaks: streaksK3, bar: barK3, legend: legendK3, tree: treeK3, fringe: fringeK3, span: [135, 1217], unit: 1 / 1.0814 },
        { k: 4, left: 395, top: 3619, breaks: breaksK4, blocks: blocksK4, streaks: streaksK4, bar: barK4, legend: legendK4, tree: treeK4, fringe: fringeK4, span: [59, 1141], unit: 1 / 1.0814 },
        { k: 5, left: 2017, top: 3619, breaks: breaksK5, blocks: blocksK5, streaks: streaksK5, bar: barK5, legend: legendK5, tree: treeK5, fringe: fringeK5, span: [72, 1154], unit: 1 / 1.0814 },
        { k: 6, left: 3575, top: 3619, breaks: breaksK6, blocks: blocksK6, streaks: streaksK6, bar: barK6, legend: legendK6, tree: treeK6, fringe: fringeK6, span: [135, 1217], unit: 1 / 1.0814 },
        { k: 7, left: 395, top: 5202, breaks: breaksK7, blocks: blocksK7, streaks: streaksK7, bar: barK7, legend: legendK7, tree: treeK7, fringe: fringeK7, span: [59, 1141], unit: 1 / 1.0814 },
        { k: 8, left: 2017, top: 5202, breaks: breaksK8, blocks: blocksK8, streaks: streaksK8, bar: barK8, legend: legendK8, tree: treeK8, fringe: fringeK8, span: [72, 1154], unit: 1 / 1.0814 },
        { k: 9, left: 3575, top: 5202, breaks: breaksK9, blocks: blocksK9, streaks: streaksK9, bar: barK9, legend: legendK9, tree: treeK9, fringe: fringeK9, span: [196, 1316], unit: 1 / 1.045 },
      ];

      matrices.forEach((m) => {
        const g = svg.append("g");
        const x = d3.scaleLinear().domain([0, 1000]).range([m.left, m.left + 1000]);
        const y = d3.scaleLinear().domain([0, 1000]).range([m.top + 1000, m.top]);

        // blocks
        const cells = [];
        const n = m.breaks.length - 1;
        const level = (i, j) => parseInt(m.blocks[Math.max(i, j)][Math.min(i, j)], 11) || 0;
        for (let i = 0; i < n; i++) for (let j = 0; j < n; j++) cells.push({ i, j, v: level(i, j) });
        const drawCells = (list, opacity) => g.selectAll(null).data(list).join("rect").attr("shape-rendering", "crispEdges")
          .attr("x", (c) => x(m.breaks[c.j])).attr("width", (c) => x(m.breaks[c.j + 1]) - x(m.breaks[c.j]))
          .attr("y", (c) => y(m.breaks[c.i + 1])).attr("height", (c) => y(m.breaks[c.i]) - y(m.breaks[c.i + 1]))
          .attr("fill", (c) => levelColors[c.v]).attr("fill-opacity", opacity);
        drawCells(cells.filter((c) => c.v > 0), 1);

        // streaks, both sides of the diagonal
        m.streaks.forEach(([p, w, a, b, v]) => {
          g.append("rect").attr("shape-rendering", "crispEdges").attr("x", x(p - w / 2)).attr("width", Math.max(w, 2))
            .attr("y", y(b)).attr("height", y(a) - y(b)).attr("fill", levelColors[v]);
          g.append("rect").attr("shape-rendering", "crispEdges").attr("x", x(a)).attr("width", x(b) - x(a))
            .attr("y", y(p + w / 2)).attr("height", Math.max(w, 2)).attr("fill", levelColors[v]);
        });

        // grain, faint on the near-solid blocks and none on the solid ones
        weaveLines.forEach((p, i) => {
          const w = i % 3 === 0 ? 4 : 2;
          g.append("rect").attr("x", x(p)).attr("y", m.top).attr("width", w).attr("height", 1000).attr("fill", "#fff").attr("fill-opacity", 0.22);
          g.append("rect").attr("x", m.left).attr("y", y(p)).attr("width", 1000).attr("height", w).attr("fill", "#fff").attr("fill-opacity", 0.22);
        });
        drawCells(cells.filter((c) => c.v === 8), 0.6);
        drawCells(cells.filter((c) => c.v === 9), 0.8);
        drawCells(cells.filter((c) => c.v === 10), 1);

        // cluster bar
        const barTop = m.top - 59;
        let from = 0;
        m.bar.forEach(([to, c]) => {
          g.append("rect").attr("shape-rendering", "crispEdges").attr("x", x(from)).attr("width", x(to) - x(from))
            .attr("y", barTop).attr("height", 42).attr("fill", clusterColors[c]);
          from = to;
        });

        // dendrogram
        const base = m.top - 67;
        const tx = d3.scaleLinear().domain(m.span).range([m.left, m.left + 1000]);
        const th = (h) => base - h * m.unit;
        const area = d3.area().x((d) => tx(d[0])).y0(base).y1((d) => th(d[1])).curve(d3.curveStepAfter);
        g.append("path").attr("d", area(m.fringe)).attr("fill", "#050000");
        const root = d3.hierarchy(m.tree, (d) => (Array.isArray(d) ? d.slice(1) : null));
        const path = d3.path();
        root.eachAfter((node) => {
          if (!node.children) { node.px = tx(node.data); node.py = base; return; }
          const [c1, c2] = node.children;
          node.px = (c1.px + c2.px) / 2;
          node.py = th(node.data[0]);
          path.moveTo(c1.px, c1.py); path.lineTo(c1.px, node.py); path.lineTo(c2.px, node.py); path.lineTo(c2.px, c2.py);
        });
        g.append("path").attr("d", path.toString()).attr("fill", "none").attr("stroke", "#000").attr("stroke-width", 3.2);
        g.append("line").attr("x1", m.left).attr("x2", m.left + 1003).attr("y1", base).attr("y2", base).attr("stroke", "#000").attr("stroke-width", 4);

        label(g, m.left + 500, m.top - 370, `consensus matrix k=${m.k}`, 47, { bold: true });

        // legend box
        const lx = m.left + 1115;
        const ly = m.top < 3000 ? 1868 : m.top < 5000 ? 3409 : 4992;
        const rows = d3.scaleLinear().domain([0, 1]).range([ly + 45, ly + 91.8]);
        box(g, lx, ly, lx + 137, ly + 90 + (m.legend.length - 1) * 46.8);
        m.legend.forEach((c, i) => {
          g.append("rect").attr("x", lx + 32).attr("y", rows(i) - 13).attr("width", 30).attr("height", 26)
            .attr("fill", clusterColors[c]).attr("stroke", "#000").attr("stroke-width", 2.5);
          label(g, lx + 107, rows(i) + 15, i + 1, 38);
        });
      });
    </script>
  </body>
</html>
